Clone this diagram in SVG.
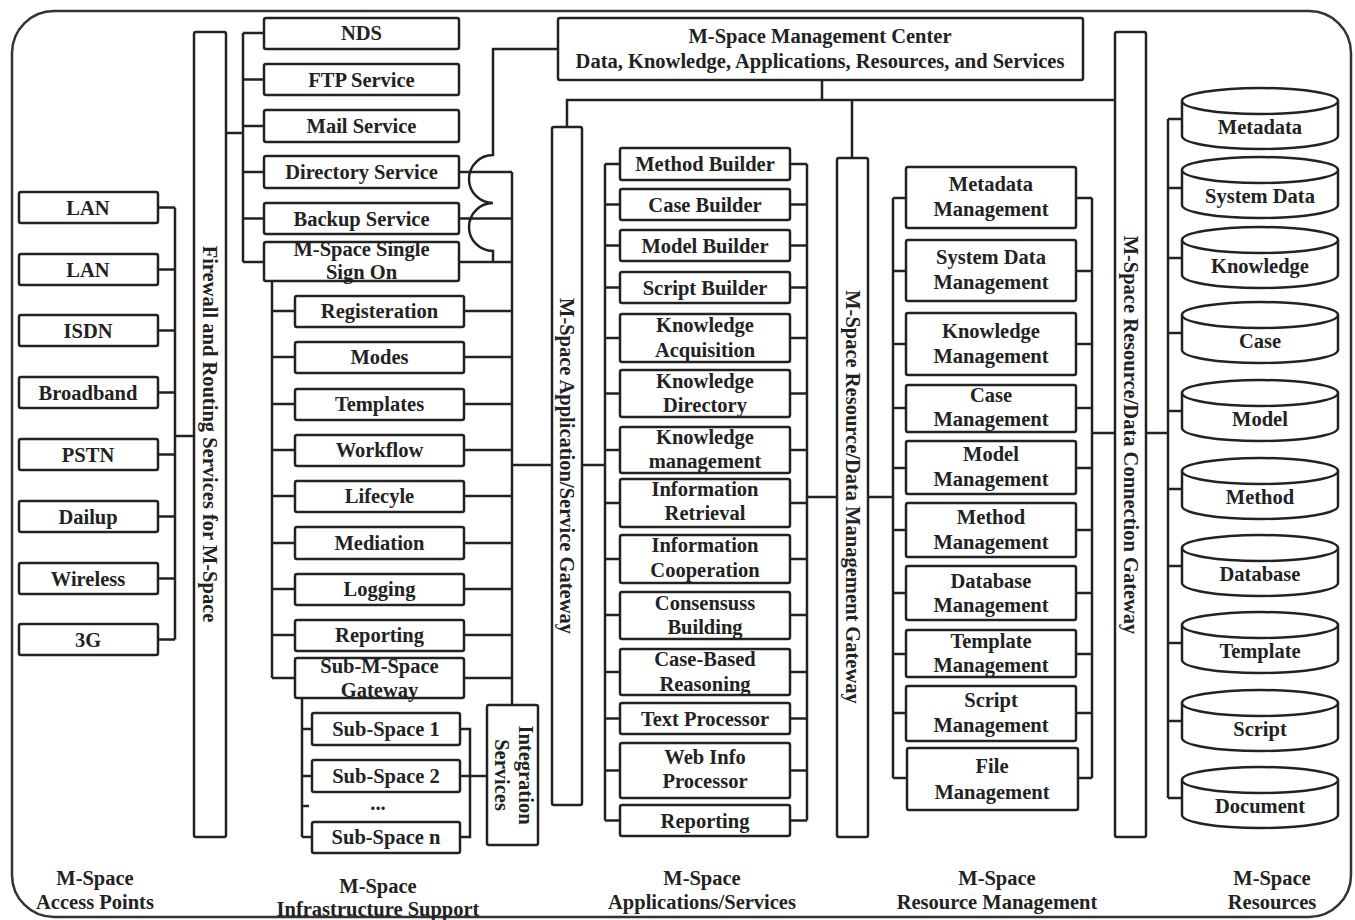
<svg xmlns="http://www.w3.org/2000/svg" width="1355" height="920" viewBox="0 0 1355 920">
<style>
.bg{fill:#fff}
.frame{fill:none;stroke:#333;stroke-width:2.5}
.b{fill:#fff;stroke:#222;stroke-width:2.5}
.c{fill:none;stroke:#222;stroke-width:2.5}
.t{font-family:"Liberation Serif","Times New Roman",serif;font-weight:bold;font-size:20.5px;fill:#222;text-anchor:middle;dominant-baseline:central}
</style>
<rect class="bg" x="0" y="0" width="1355" height="920"/>
<rect class="frame" x="12" y="11" width="1339" height="906" rx="42" ry="42"/>

<g id="connectors">
  <!-- access points -->
  <path class="c" d="M158 207.5H175M158 269.5H175M158 330.5H175M158 392.5H175M158 454.5H175M158 516.5H175M158 578.5H175M158 639.5H175M175 207.5V639.5M175 436H194"/>
  <!-- infrastructure -->
  <path class="c" d="M226 133H243M243 33V262M243 33H264M243 79.5H264M243 126H264M243 172H264M243 218.5H264M243 262H264"/>
  <path class="c" d="M459 172H512M459 218.5H512M459 262H512M512 172V705"/>
  <path class="c" d="M272 281V678M272 311H295M272 357H295M272 404H295M272 450H295M272 496H295M272 543H295M272 589H295M272 635H295M272 678H295"/>
  <path class="c" d="M464 311H512M464 357H512M464 404H512M464 450H512M464 496H512M464 543H512M464 589H512M464 635H512M464 678H512"/>
  <path class="c" d="M302 698V837M302 729H312M302 776H312M302 806H309M302 837H312M460 729H470V837H460M460 776H487"/>
  <path class="c" d="M512 465H552"/>
  <path class="c" d="M558 49H493V155A24 24 0 0 0 493 203A24 24 0 0 0 493 251V262"/>
  <!-- top -->
  <path class="c" d="M822 80V100M567 127V100H1115M852 100V158"/>
  <!-- applications -->
  <path class="c" d="M582 465H605M605 164V820.5M605 164H620M605 204.5H620M605 245.5H620M605 287.5H620M605 338H620M605 393.5H620M605 450H620M605 503H620M605 559H620M605 615H620M605 672H620M605 718.5H620M605 770.5H620M605 820.5H620"/>
  <path class="c" d="M790 164H807M790 204.5H807M790 245.5H807M790 287.5H807M790 338H807M790 393.5H807M790 450H807M790 503H807M790 559H807M790 615H807M790 672H807M790 718.5H807M790 770.5H807M790 820.5H807M807 164V820.5M807 497H837"/>
  <!-- resource management -->
  <path class="c" d="M868 497H893M893 198V778M893 198H906M893 271H906M893 344H906M893 408H906M893 468H906M893 530H906M893 593H906M893 654H906M893 713H906M893 778H907"/>
  <path class="c" d="M1076 198H1092M1076 271H1092M1076 344H1092M1076 408H1092M1076 468H1092M1076 530H1092M1076 593H1092M1076 654H1092M1076 713H1092M1078 778H1092M1092 198V778M1092 433H1115"/>
  <!-- resources -->
  <path class="c" d="M1145 433H1168M1168 119V798M1168 119H1182M1168 188H1182M1168 258H1182M1168 333H1182M1168 411H1182M1168 489H1182M1168 566H1182M1168 643H1182M1168 721H1182M1168 798H1182"/>
</g>

<g id="access-points">
  <g id="ap-lan1"><rect class="b" x="19" y="192" width="139" height="31" rx="2"/><text class="t" x="88" y="207.5">LAN</text></g>
  <g id="ap-lan2"><rect class="b" x="19" y="254" width="139" height="31" rx="2"/><text class="t" x="88" y="269.5">LAN</text></g>
  <g id="ap-isdn"><rect class="b" x="19" y="315" width="139" height="31" rx="2"/><text class="t" x="88" y="330.5">ISDN</text></g>
  <g id="ap-broadband"><rect class="b" x="19" y="377" width="139" height="31" rx="2"/><text class="t" x="88" y="392.5">Broadband</text></g>
  <g id="ap-pstn"><rect class="b" x="19" y="439" width="139" height="31" rx="2"/><text class="t" x="88" y="454.5">PSTN</text></g>
  <g id="ap-dailup"><rect class="b" x="19" y="501" width="139" height="31" rx="2"/><text class="t" x="88" y="516.5">Dailup</text></g>
  <g id="ap-wireless"><rect class="b" x="19" y="563" width="139" height="31" rx="2"/><text class="t" x="88" y="578.5">Wireless</text></g>
  <g id="ap-3g"><rect class="b" x="19" y="624" width="139" height="31" rx="2"/><text class="t" x="88" y="639.5">3G</text></g>
</g>

<g id="firewall"><rect class="b" x="194" y="32" width="32" height="805" rx="2"/><text class="t" transform="translate(210 434) rotate(90)">Firewall and Routing Services for M-Space</text></g>

<g id="infrastructure">
  <g id="nds"><rect class="b" x="264" y="18" width="195" height="31" rx="2"/><text class="t" x="361.5" y="33">NDS</text></g>
  <g id="ftp"><rect class="b" x="264" y="64" width="195" height="31" rx="2"/><text class="t" x="361.5" y="79.5">FTP Service</text></g>
  <g id="mail"><rect class="b" x="264" y="110" width="195" height="32" rx="2"/><text class="t" x="361.5" y="126">Mail Service</text></g>
  <g id="directory"><rect class="b" x="264" y="156" width="195" height="32" rx="2"/><text class="t" x="361.5" y="172">Directory Service</text></g>
  <g id="backup"><rect class="b" x="264" y="203" width="195" height="31" rx="2"/><text class="t" x="361.5" y="218.5">Backup Service</text></g>
  <g id="sso"><rect class="b" x="264" y="242" width="195" height="39" rx="2"/><text class="t" x="361.5" y="249">M-Space Single</text><text class="t" x="361.5" y="272">Sign On</text></g>
  <g id="registeration"><rect class="b" x="295" y="296" width="169" height="31" rx="2"/><text class="t" x="379.5" y="311">Registeration</text></g>
  <g id="modes"><rect class="b" x="295" y="342" width="169" height="31" rx="2"/><text class="t" x="379.5" y="357">Modes</text></g>
  <g id="templates"><rect class="b" x="295" y="389" width="169" height="31" rx="2"/><text class="t" x="379.5" y="404">Templates</text></g>
  <g id="workflow"><rect class="b" x="295" y="435" width="169" height="31" rx="2"/><text class="t" x="379.5" y="450">Workflow</text></g>
  <g id="lifecyle"><rect class="b" x="295" y="481" width="169" height="31" rx="2"/><text class="t" x="379.5" y="496">Lifecyle</text></g>
  <g id="mediation"><rect class="b" x="295" y="527" width="169" height="32" rx="2"/><text class="t" x="379.5" y="543">Mediation</text></g>
  <g id="logging"><rect class="b" x="295" y="574" width="169" height="31" rx="2"/><text class="t" x="379.5" y="589">Logging</text></g>
  <g id="reporting-infra"><rect class="b" x="295" y="620" width="169" height="31" rx="2"/><text class="t" x="379.5" y="635">Reporting</text></g>
  <g id="sub-gateway"><rect class="b" x="295" y="658" width="169" height="40" rx="2"/><text class="t" x="379.5" y="666">Sub-M-Space</text><text class="t" x="379.5" y="690">Gateway</text></g>
  <g id="subspace1"><rect class="b" x="312" y="713" width="148" height="32" rx="2"/><text class="t" x="386" y="729">Sub-Space 1</text></g>
  <g id="subspace2"><rect class="b" x="312" y="760" width="148" height="32" rx="2"/><text class="t" x="386" y="776">Sub-Space 2</text></g>
  <text class="t" x="378" y="803">...</text>
  <g id="subspacen"><rect class="b" x="312" y="822" width="148" height="31" rx="2"/><text class="t" x="386" y="837">Sub-Space n</text></g>
  <g id="integration"><rect class="b" x="487" y="705" width="51" height="140" rx="2"/><g transform="translate(512 775) rotate(90)"><text class="t" x="0" y="-14">Integration</text><text class="t" x="0" y="10">Services</text></g></g>
</g>

<g id="management-center"><rect class="b" x="558" y="18" width="525" height="62" rx="2"/><text class="t" x="820" y="36">M-Space Management Center</text><text class="t" x="820" y="61">Data, Knowledge, Applications, Resources, and Services</text></g>

<g id="app-gateway"><rect class="b" x="552" y="127" width="30" height="678" rx="2"/><text class="t" transform="translate(567 466) rotate(90)">M-Space Application/Service Gateway</text></g>

<g id="applications">
  <g id="method-builder"><rect class="b" x="620" y="148" width="170" height="32" rx="2"/><text class="t" x="705" y="164">Method Builder</text></g>
  <g id="case-builder"><rect class="b" x="620" y="189" width="170" height="31" rx="2"/><text class="t" x="705" y="204.5">Case Builder</text></g>
  <g id="model-builder"><rect class="b" x="620" y="230" width="170" height="31" rx="2"/><text class="t" x="705" y="245.5">Model Builder</text></g>
  <g id="script-builder"><rect class="b" x="620" y="272" width="170" height="31" rx="2"/><text class="t" x="705" y="287.5">Script Builder</text></g>
  <g id="knowledge-acq"><rect class="b" x="620" y="314" width="170" height="48" rx="2"/><text class="t" x="705" y="325">Knowledge</text><text class="t" x="705" y="350">Acquisition</text></g>
  <g id="knowledge-dir"><rect class="b" x="620" y="370" width="170" height="47" rx="2"/><text class="t" x="705" y="381">Knowledge</text><text class="t" x="705" y="405">Directory</text></g>
  <g id="knowledge-mgmt"><rect class="b" x="620" y="427" width="170" height="46" rx="2"/><text class="t" x="705" y="437">Knowledge</text><text class="t" x="705" y="461">management</text></g>
  <g id="info-retrieval"><rect class="b" x="620" y="479" width="170" height="48" rx="2"/><text class="t" x="705" y="489">Information</text><text class="t" x="705" y="513">Retrieval</text></g>
  <g id="info-coop"><rect class="b" x="620" y="535" width="170" height="48" rx="2"/><text class="t" x="705" y="545">Information</text><text class="t" x="705" y="570">Cooperation</text></g>
  <g id="consensus"><rect class="b" x="620" y="592" width="170" height="47" rx="2"/><text class="t" x="705" y="603">Consensuss</text><text class="t" x="705" y="627">Building</text></g>
  <g id="case-based"><rect class="b" x="620" y="649" width="170" height="46" rx="2"/><text class="t" x="705" y="659">Case-Based</text><text class="t" x="705" y="684">Reasoning</text></g>
  <g id="text-processor"><rect class="b" x="620" y="703" width="170" height="31" rx="2"/><text class="t" x="705" y="718.5">Text Processor</text></g>
  <g id="web-info"><rect class="b" x="620" y="743" width="170" height="55" rx="2"/><text class="t" x="705" y="757">Web Info</text><text class="t" x="705" y="781">Processor</text></g>
  <g id="reporting-app"><rect class="b" x="620" y="805" width="170" height="31" rx="2"/><text class="t" x="705" y="820.5">Reporting</text></g>
</g>

<g id="mgmt-gateway"><rect class="b" x="837" y="158" width="31" height="679" rx="2"/><text class="t" transform="translate(852.5 497) rotate(90)">M-Space Resource/Data Management Gateway</text></g>

<g id="resource-management">
  <g id="metadata-mgmt"><rect class="b" x="906" y="167" width="170" height="61" rx="2"/><text class="t" x="991" y="184">Metadata</text><text class="t" x="991" y="209">Management</text></g>
  <g id="sysdata-mgmt"><rect class="b" x="906" y="240" width="170" height="61" rx="2"/><text class="t" x="991" y="257">System Data</text><text class="t" x="991" y="282">Management</text></g>
  <g id="knowledge-mgmt2"><rect class="b" x="906" y="313" width="170" height="62" rx="2"/><text class="t" x="991" y="331">Knowledge</text><text class="t" x="991" y="356">Management</text></g>
  <g id="case-mgmt"><rect class="b" x="906" y="385" width="170" height="47" rx="2"/><text class="t" x="991" y="395">Case</text><text class="t" x="991" y="419">Management</text></g>
  <g id="model-mgmt"><rect class="b" x="906" y="441" width="170" height="53" rx="2"/><text class="t" x="991" y="454">Model</text><text class="t" x="991" y="479">Management</text></g>
  <g id="method-mgmt"><rect class="b" x="906" y="503" width="170" height="54" rx="2"/><text class="t" x="991" y="517">Method</text><text class="t" x="991" y="542">Management</text></g>
  <g id="database-mgmt"><rect class="b" x="906" y="566" width="170" height="54" rx="2"/><text class="t" x="991" y="581">Database</text><text class="t" x="991" y="605">Management</text></g>
  <g id="template-mgmt"><rect class="b" x="906" y="630" width="170" height="47" rx="2"/><text class="t" x="991" y="641">Template</text><text class="t" x="991" y="665">Management</text></g>
  <g id="script-mgmt"><rect class="b" x="906" y="686" width="170" height="55" rx="2"/><text class="t" x="991" y="700">Script</text><text class="t" x="991" y="725">Management</text></g>
  <g id="file-mgmt"><rect class="b" x="907" y="748" width="171" height="62" rx="2"/><text class="t" x="992" y="766">File</text><text class="t" x="992" y="792">Management</text></g>
</g>

<g id="conn-gateway"><rect class="b" x="1115" y="32" width="31" height="805" rx="2"/><text class="t" transform="translate(1130.5 435) rotate(90)">M-Space Resource/Data Connection Gateway</text></g>

<g id="resources">
  <g id="r-metadata"><path class="b" d="M1182 101V136A78 13 0 0 0 1338 136V101"/><ellipse class="b" cx="1260" cy="101" rx="78" ry="13"/><text class="t" x="1260" y="127">Metadata</text></g>
  <g id="r-systemdata"><path class="b" d="M1182 170V205A78 13 0 0 0 1338 205V170"/><ellipse class="b" cx="1260" cy="170" rx="78" ry="13"/><text class="t" x="1260" y="196">System Data</text></g>
  <g id="r-knowledge"><path class="b" d="M1182 240V275A78 13 0 0 0 1338 275V240"/><ellipse class="b" cx="1260" cy="240" rx="78" ry="13"/><text class="t" x="1260" y="266">Knowledge</text></g>
  <g id="r-case"><path class="b" d="M1182 315V350A78 13 0 0 0 1338 350V315"/><ellipse class="b" cx="1260" cy="315" rx="78" ry="13"/><text class="t" x="1260" y="341">Case</text></g>
  <g id="r-model"><path class="b" d="M1182 393V428A78 13 0 0 0 1338 428V393"/><ellipse class="b" cx="1260" cy="393" rx="78" ry="13"/><text class="t" x="1260" y="419">Model</text></g>
  <g id="r-method"><path class="b" d="M1182 471V506A78 13 0 0 0 1338 506V471"/><ellipse class="b" cx="1260" cy="471" rx="78" ry="13"/><text class="t" x="1260" y="497">Method</text></g>
  <g id="r-database"><path class="b" d="M1182 548V583A78 13 0 0 0 1338 583V548"/><ellipse class="b" cx="1260" cy="548" rx="78" ry="13"/><text class="t" x="1260" y="574">Database</text></g>
  <g id="r-template"><path class="b" d="M1182 625V660A78 13 0 0 0 1338 660V625"/><ellipse class="b" cx="1260" cy="625" rx="78" ry="13"/><text class="t" x="1260" y="651">Template</text></g>
  <g id="r-script"><path class="b" d="M1182 703V738A78 13 0 0 0 1338 738V703"/><ellipse class="b" cx="1260" cy="703" rx="78" ry="13"/><text class="t" x="1260" y="729">Script</text></g>
  <g id="r-document"><path class="b" d="M1182 780V815A78 13 0 0 0 1338 815V780"/><ellipse class="b" cx="1260" cy="780" rx="78" ry="13"/><text class="t" x="1260" y="806">Document</text></g>
</g>

<g id="labels">
  <text class="t" x="95" y="878">M-Space</text><text class="t" x="95" y="902">Access Points</text>
  <text class="t" x="378" y="886">M-Space</text><text class="t" x="378" y="909">Infrastructure Support</text>
  <text class="t" x="702" y="878">M-Space</text><text class="t" x="702" y="902">Applications/Services</text>
  <text class="t" x="997" y="878">M-Space</text><text class="t" x="997" y="902">Resource Management</text>
  <text class="t" x="1272" y="878">M-Space</text><text class="t" x="1272" y="902">Resources</text>
</g>
</svg>
